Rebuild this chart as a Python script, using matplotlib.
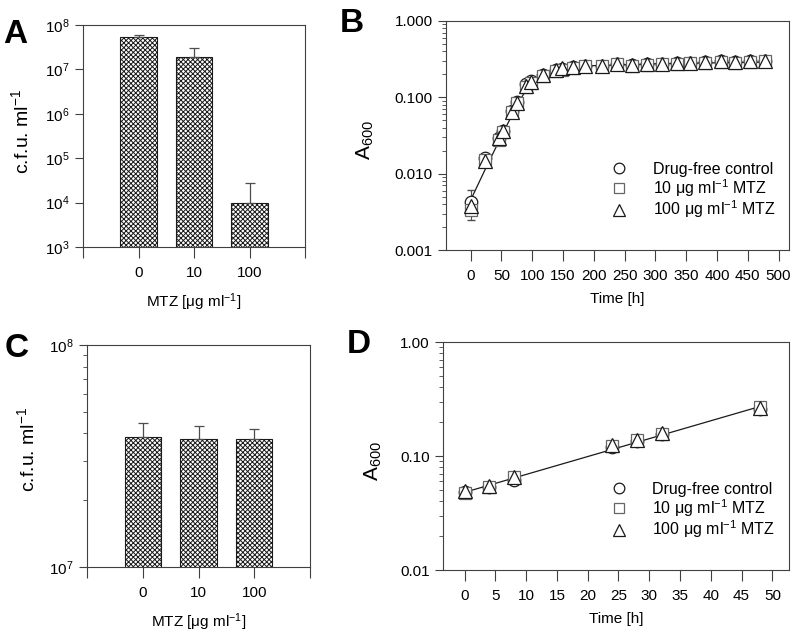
import numpy as np
import matplotlib
matplotlib.use("Agg")
import matplotlib.pyplot as plt
from matplotlib.ticker import LogLocator, FixedLocator, NullFormatter, FuncFormatter

plt.rcParams['font.family'] = ['Liberation Sans', 'DejaVu Sans']
plt.rcParams['mathtext.fontset'] = 'custom'
plt.rcParams['mathtext.rm'] = 'Liberation Sans'
plt.rcParams['mathtext.it'] = 'Liberation Sans:italic'
plt.rcParams['hatch.linewidth'] = 0.7

# ---------------- data ----------------
mtz_labels = ['0', '10', '100']

# panel A: viable counts after long exposure
cfu_a = [5.4e7, 1.9e7, 1.0e4]
cfu_a_err = [0.5e7, 1.1e7, 1.8e4]

# panel C: viable counts after short exposure
cfu_c = [3.85e7, 3.78e7, 3.76e7]
cfu_c_err = [0.6e7, 0.52e7, 0.41e7]

# panel B: growth curves (A600) over 480 h
time_b = [0, 23, 46, 53, 67, 75, 90, 98, 118, 139, 148, 167, 186, 213,
          237, 262, 286, 311, 335, 357, 381, 406, 430, 454, 478]
ctrl_b = [0.0043, 0.016, 0.029, 0.036, 0.066, 0.086, 0.15, 0.165, 0.195, 0.225,
          0.235, 0.25, 0.255, 0.26, 0.275, 0.265, 0.27, 0.275, 0.28, 0.285,
          0.29, 0.295, 0.29, 0.295, 0.30]
mtz10_b = [0.0033, 0.015, 0.028, 0.035, 0.064, 0.084, 0.135, 0.155, 0.19, 0.22,
           0.23, 0.245, 0.255, 0.255, 0.27, 0.26, 0.265, 0.27, 0.275, 0.28,
           0.285, 0.29, 0.285, 0.29, 0.295]
mtz100_b = [0.0038, 0.0145, 0.029, 0.036, 0.065, 0.085, 0.14, 0.16, 0.195, 0.23,
            0.24, 0.25, 0.26, 0.26, 0.275, 0.265, 0.27, 0.275, 0.28, 0.285,
            0.29, 0.295, 0.29, 0.295, 0.30]
err_b = [0.0018, 0.0015, 0.002, 0.002, 0.004, 0.005, 0.02, 0.01, 0.008, 0.008,
         0.006, 0.006, 0.006, 0.006, 0.006, 0.006, 0.006, 0.006, 0.006, 0.006,
         0.006, 0.006, 0.006, 0.006, 0.006]
fit_t_b = [0, 25, 50, 75, 90, 100, 110, 125, 150, 200, 300, 480]
fit_y_b = [0.0045, 0.012, 0.031, 0.078, 0.125, 0.16, 0.183, 0.21, 0.235, 0.26, 0.275, 0.29]

# panel D: growth curves (A600) over 48 h
time_d = [0, 4, 8, 24, 28, 32, 48]
ctrl_d = [0.048, 0.0535, 0.062, 0.120, 0.136, 0.156, 0.258]
mtz10_d = [0.047, 0.0535, 0.065, 0.123, 0.137, 0.157, 0.268]
mtz100_d = [0.049, 0.0545, 0.066, 0.124, 0.138, 0.158, 0.265]
fit_t_d = [0, 48]
fit_y_d = [0.048, 0.272]

W, H = 800, 637
fig = plt.figure(figsize=(W / 100, H / 100), dpi=100)


def px_axes(l, t, r, b):
    return fig.add_axes([l / W, 1 - b / H, (r - l) / W, (b - t) / H])


def style(ax):
    for s in ax.spines.values():
        s.set_linewidth(0.8)
        s.set_color('0.25')
    ax.tick_params(which='major', direction='out', length=6, width=0.8,
                   labelsize=11, color='0.25')
    ax.tick_params(which='minor', direction='out', length=3, width=0.6, color='0.25')


def bar_panel(ax, vals, errs):
    x = np.arange(len(vals))
    ax.bar(x, vals, width=0.65, color='white', edgecolor='0.1', hatch='xxxxxxx',
           linewidth=0.8, zorder=2)
    ax.errorbar(x, vals, yerr=[[0] * len(vals), errs], fmt='none', ecolor='0.3',
                elinewidth=0.9, capsize=3.5, capthick=0.9, zorder=3)
    ax.set_xlim(-1, 3)
    ax.set_xticks([-1, 0, 1, 2, 3])
    ax.set_xticklabels([''] + mtz_labels + [''])
    ax.set_yscale('log')
    ax.set_xlabel(r'MTZ [$\mathrm{\mu}$g ml$^{-1}$]', fontsize=11, labelpad=8)
    ax.set_ylabel(r'c.f.u. ml$^{-1}$', fontsize=14)
    ax.tick_params(axis='x', length=8, pad=6)


def growth_panel(ax, t, c, m10, m100, ft, fy, err=None):
    ax.plot(ft, fy, color='0.1', lw=0.9, zorder=2)
    if err is not None:
        ax.errorbar(t, c, yerr=err, fmt='none', ecolor='0.3', elinewidth=0.8,
                    capsize=3, zorder=2)
    ax.plot(t, c, 'o', ms=9, mfc='white', mec='0.1', mew=0.9, zorder=3,
            label='Drug-free control')
    ax.plot(t, m10, 's', ms=8.5, mfc='white', mec='0.4', mew=0.9, zorder=3,
            label=r'10 $\mathrm{\mu}$g ml$^{-1}$ MTZ')
    ax.plot(t, m100, '^', ms=9.5, mfc='white', mec='0.1', mew=0.9, zorder=4,
            label=r'100 $\mathrm{\mu}$g ml$^{-1}$ MTZ')
    ax.set_yscale('log')
    ax.yaxis.set_minor_locator(LogLocator(base=10, subs=np.arange(2, 10)))
    ax.yaxis.set_minor_formatter(NullFormatter())
    ax.set_xlabel('Time [h]', fontsize=11, labelpad=6)
    ax.set_ylabel(r'A$_{600}$', fontsize=15)
    ax.tick_params(axis='x', length=8, pad=6)
    leg = ax.legend(loc='lower right', bbox_to_anchor=(0.96, 0.13), frameon=False,
                    fontsize=11.5, handletextpad=1.1, labelspacing=0.0,
                    borderaxespad=0, borderpad=0, markerscale=0.85)
    return leg


# ---- A ----
ax_a = px_axes(83, 25, 305, 247)
style(ax_a)
bar_panel(ax_a, cfu_a, cfu_a_err)
ax_a.set_ylim(1e3, 1e8)
ax_a.yaxis.set_minor_locator(FixedLocator([]))
ax_a.yaxis.set_label_coords(-0.23, 0.52)

# ---- B ----
ax_b = px_axes(446, 21, 789, 250)
style(ax_b)
growth_panel(ax_b, time_b, ctrl_b, mtz10_b, mtz100_b, fit_t_b, fit_y_b, err_b)
ax_b.set_xlim(-40, 517)
ax_b.set_xticks(np.arange(0, 501, 50))
ax_b.set_ylim(0.001, 1.0)
ax_b.yaxis.set_major_formatter(FuncFormatter(lambda v, p: f'{v:.3f}'))
ax_b.yaxis.set_label_coords(-0.205, 0.48)

# ---- C ----
ax_c = px_axes(87, 345, 310, 567)
style(ax_c)
bar_panel(ax_c, cfu_c, cfu_c_err)
ax_c.set_ylim(1e7, 1e8)
ax_c.yaxis.set_minor_locator(LogLocator(base=10, subs=np.arange(2, 10)))
ax_c.yaxis.set_minor_formatter(NullFormatter())
ax_c.yaxis.set_label_coords(-0.22, 0.53)

# ---- D ----
ax_d = px_axes(443, 342, 789, 570)
style(ax_d)
growth_panel(ax_d, time_d, ctrl_d, mtz10_d, mtz100_d, fit_t_d, fit_y_d)
ax_d.set_xlim(-3.5, 52.7)
ax_d.set_xticks(np.arange(0, 51, 5))
ax_d.set_ylim(0.01, 1.0)
ax_d.yaxis.set_major_formatter(FuncFormatter(lambda v, p: f'{v:.2f}'))
ax_d.yaxis.set_label_coords(-0.17, 0.48)

# panel letters
for lbl, x, y in [('A', 3, 43), ('B', 340, 32), ('C', 5, 357), ('D', 347, 353)]:
    fig.text(x / W, 1 - y / H, lbl, fontsize=24, fontweight='bold')

fig.savefig('out.png', dpi=100)
